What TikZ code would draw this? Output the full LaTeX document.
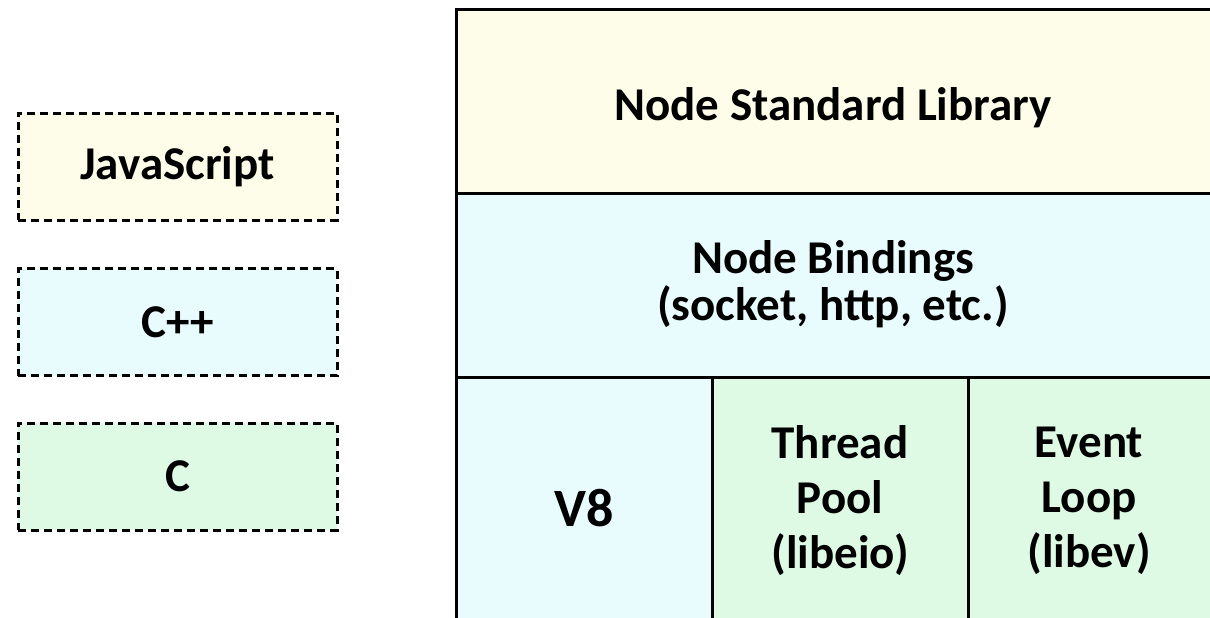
\documentclass[tikz,border=0pt]{standalone}
\usepackage{fontspec}
\setmainfont{Carlito}
\definecolor{jsfill}{RGB}{253,253,234}
\definecolor{cppfill}{RGB}{232,252,253}
\definecolor{cfill}{RGB}{222,250,228}
\begin{document}
\begin{tikzpicture}[x=1pt,y=-1pt,
  legendbox/.style={draw=black, line width=3pt, dash pattern=on 8pt off 5pt,
    minimum width=319pt, minimum height=107pt, inner sep=0pt, font=\fontsize{47}{52}\selectfont\bfseries},
  layer/.style={draw=black, line width=3pt, inner sep=0pt, anchor=north west},
  lbl/.style={align=center, inner sep=0pt, font=\fontsize{47}{52}\selectfont\bfseries}]
\useasboundingbox (0,0) rectangle (1210,618);
% legend
\node[legendbox, fill=jsfill] (js) at (177.5,166.5) {JavaScript};
\node[legendbox, fill=cppfill] (cpp) at (177.5,322) {C++};
\node[legendbox, fill=cfill] (c) at (177.5,476.5) {C};
% layers
\node[layer, fill=jsfill, minimum width=780pt, minimum height=184pt] (stdlib) at (455,8) {};
\node[layer, fill=cppfill, minimum width=780pt, minimum height=184pt] (bind) at (455,192) {};
\node[layer, fill=cppfill, minimum width=256pt, minimum height=280pt] (v8) at (455,376) {};
\node[layer, fill=cfill, minimum width=256pt, minimum height=280pt] (tp) at (711,376) {};
\node[layer, fill=cfill, minimum width=300pt, minimum height=280pt] (ev) at (967,376) {};
% texts
\node[lbl] (stdlibt) at (833,108) {Node Standard Library};
\node[lbl, font=\fontsize{47}{47}\selectfont\bfseries] (bindt) at (833,284) {Node Bindings\\(socket, http, etc.)};
\node[lbl, font=\fontsize{54}{60}\selectfont\bfseries] (v8t) at (584,508) {V8};
\node[lbl, font=\fontsize{47}{55}\selectfont\bfseries] (tpt) at (840,501) {Thread\\Pool\\(libeio)};
\node[lbl, font=\fontsize{47}{55}\selectfont\bfseries] (evt) at (1089,501) {Event\\Loop\\(libev)};
\end{tikzpicture}
\end{document}
